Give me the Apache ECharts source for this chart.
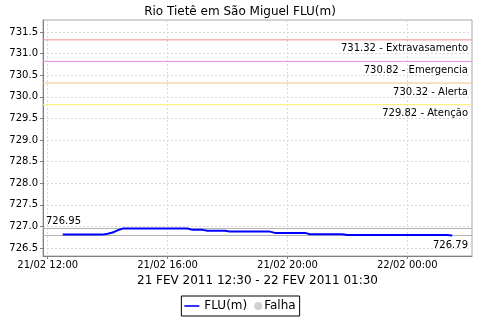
<!DOCTYPE html>
<html>
<head>
<meta charset="utf-8">
<script src="https://cdn.jsdelivr.net/npm/echarts@6/dist/echarts.min.js"></script>
<style>html,body{margin:0;padding:0;background:#fff}#c{width:480px;height:320px}</style>
</head>
<body>
<div id="c"></div>
<script>
// ---- data ----
const chartTitle = 'Rio Tietê em São Miguel FLU(m)';
const periodLabel = '21 FEV 2011 12:30 - 22 FEV 2011 01:30';
const seriesName = 'FLU(m)';
const failName = 'Falha';
const times = [
  '2011-02-21 12:30','2011-02-21 13:50','2011-02-21 14:00','2011-02-21 14:10','2011-02-21 14:20',
  '2011-02-21 14:30','2011-02-21 16:40','2011-02-21 16:50','2011-02-21 17:10','2011-02-21 17:20',
  '2011-02-21 17:55','2011-02-21 18:05','2011-02-21 19:25','2011-02-21 19:35','2011-02-21 20:35',
  '2011-02-21 20:45','2011-02-21 21:50','2011-02-21 22:00','2011-02-22 01:20','2011-02-22 01:30'
];
const levels = [
  726.81,726.81,726.83,726.86,726.91,
  726.95,726.95,726.92,726.92,726.90,
  726.90,726.88,726.88,726.85,726.85,
  726.82,726.82,726.80,726.80,726.79
];
const thresholdValues = [731.32, 730.82, 730.32, 729.82];
const thresholdNames = ['Extravasamento', 'Emergencia', 'Alerta', 'Atenção'];
const xTickTimes = ['2011-02-21 12:00','2011-02-21 16:00','2011-02-21 20:00','2011-02-22 00:00'];
const yTickValues = [726.5,727.0,727.5,728.0,728.5,729.0,729.5,730.0,730.5,731.0,731.5];
const xRange = ['2011-02-21 11:50:36','2011-02-22 02:09:30'];
const yRange = [726.315, 731.78];

// ---- helpers ----
function t(s){
  const [d, hm] = s.split(' ');
  const [Y,M,D] = d.split('-').map(Number);
  const p = hm.split(':').map(Number);
  return Date.UTC(Y, M-1, D, p[0], p[1], p[2]||0);
}
function pad(n){return (n<10?'0':'')+n;}
function fmtTime(v){
  const d = new Date(v);
  return pad(d.getUTCDate())+'/'+pad(d.getUTCMonth()+1)+' '+pad(d.getUTCHours())+':'+pad(d.getUTCMinutes());
}
const thresholdColors = ['#ee8c8c', '#ec8eec', '#f5c088', '#fff070'];
const FONT = 'DejaVu Sans';
const xMin = t(xRange[0]), xMax = t(xRange[1]);

const seriesData = times.map((s,i)=>[t(s), levels[i]]);
const extremeMarks = [
  {type:'max', lineStyle:{color:'#b4b4b4', type:'solid', width:1},
   label:{position:'insideStartTop', formatter: p => p.value.toFixed(2), distance:[3,2]}},
  {type:'min', lineStyle:{color:'#b4b4b4', type:'solid', width:1},
   label:{position:'insideEndBottom', formatter: p => p.value.toFixed(2), distance:[4,5]}}
];

// threshold lines as two-point line series spanning the x-axis range
const thresholdSeries = thresholdValues.map((v,i)=>({
  name: 'th' + i, type: 'line', data: [[xMin, v], [xMax, v]],
  showSymbol: false, symbol: 'none', silent: true, legendHoverLink: false,
  lineStyle: {color: thresholdColors[i], width: 1, type: 'solid'},
  endLabel: {show: true, formatter: v.toFixed(2) + ' - ' + thresholdNames[i],
    fontFamily: FONT, fontSize: 10, color: '#000', align: 'right', verticalAlign: 'top', offset: [-4, 4], distance: 0},
  z: 2
}));

const chart = echarts.init(document.getElementById('c'), null, {renderer:'canvas'});
chart.setOption({
  animation: false,
  backgroundColor: '#ffffff',
  textStyle: {fontFamily: FONT},
  title: {
    text: chartTitle, left: 'center', top: 1,
    textStyle: {fontFamily: FONT, fontSize: 12, fontWeight: 'normal', color: '#000'}
  },
  legend: {
    bottom: 4, left: 'center',
    data: [
      {name: seriesName, icon: 'path://M0,0 M0,3.2 L15,3.2 L15,4.8 L0,4.8 Z M15,8'},
      {name: failName, icon: 'path://M0,0 M15,8 M7,4 A4,4 0 1 1 15,4 A4,4 0 1 1 7,4 Z',
       textStyle: {padding: [0,0,0,-3]}}
    ],
    itemWidth: 15, itemHeight: 8, itemGap: 0,
    borderColor: '#000', borderWidth: 1, borderRadius: 0,
    padding: [4, 4, 4, 3],
    textStyle: {fontFamily: FONT, fontSize: 12, color: '#000'}
  },
  grid: {left: 43, top: 20, right: 8, bottom: 64, show: true, borderColor: '#a8a8a8', borderWidth: 1},
  xAxis: {
    type: 'value', min: xMin, max: xMax,
    name: periodLabel, nameLocation: 'middle', nameGap: 18,
    nameTextStyle: {fontFamily: FONT, fontSize: 12, color: '#000'},
    axisLine: {lineStyle: {color: '#808080'}},
    axisTick: {show: true, length: 3, lineStyle: {color: '#808080'}, customValues: xTickTimes.map(t)},
    axisLabel: {customValues: xTickTimes.map(t), formatter: fmtTime, fontFamily: FONT, fontSize: 10, color: '#000', margin: 4},
    splitLine: {show: true, lineStyle: {color: '#d8d8d8', type: [2,2]}}
  },
  yAxis: {
    type: 'value', min: yRange[0], max: yRange[1],
    axisLine: {show: true, lineStyle: {color: '#808080'}},
    axisTick: {show: true, length: 3, lineStyle: {color: '#808080'}, customValues: yTickValues},
    axisLabel: {customValues: yTickValues, formatter: v => v.toFixed(1), fontFamily: FONT, fontSize: 10, color: '#000', margin: 5},
    splitLine: {show: true, lineStyle: {color: '#d8d8d8', type: [2,2]}}
  },
  series: thresholdSeries.concat([
    {
      name: 'marks', type: 'line', data: seriesData,
      showSymbol: false, symbol: 'none', legendHoverLink: false,
      lineStyle: {opacity: 0}, itemStyle: {opacity: 0},
      markLine: {
        silent: true, symbol: 'none', animation: false,
        label: {position: 'insideEndBottom', fontFamily: FONT, fontSize: 10, color: '#000', distance: [4, 4]},
        data: extremeMarks
      },
      z: 1
    },
    {
      name: seriesName, type: 'line', data: seriesData,
      showSymbol: false, symbol: 'none',
      lineStyle: {color: '#0000ff', width: 2},
      itemStyle: {color: '#0000ff'},
      z: 5
    },
    {
      name: failName, type: 'scatter', data: [],
      itemStyle: {color: '#c4c4c4'}
    }
  ])
});
</script>
</body>
</html>
